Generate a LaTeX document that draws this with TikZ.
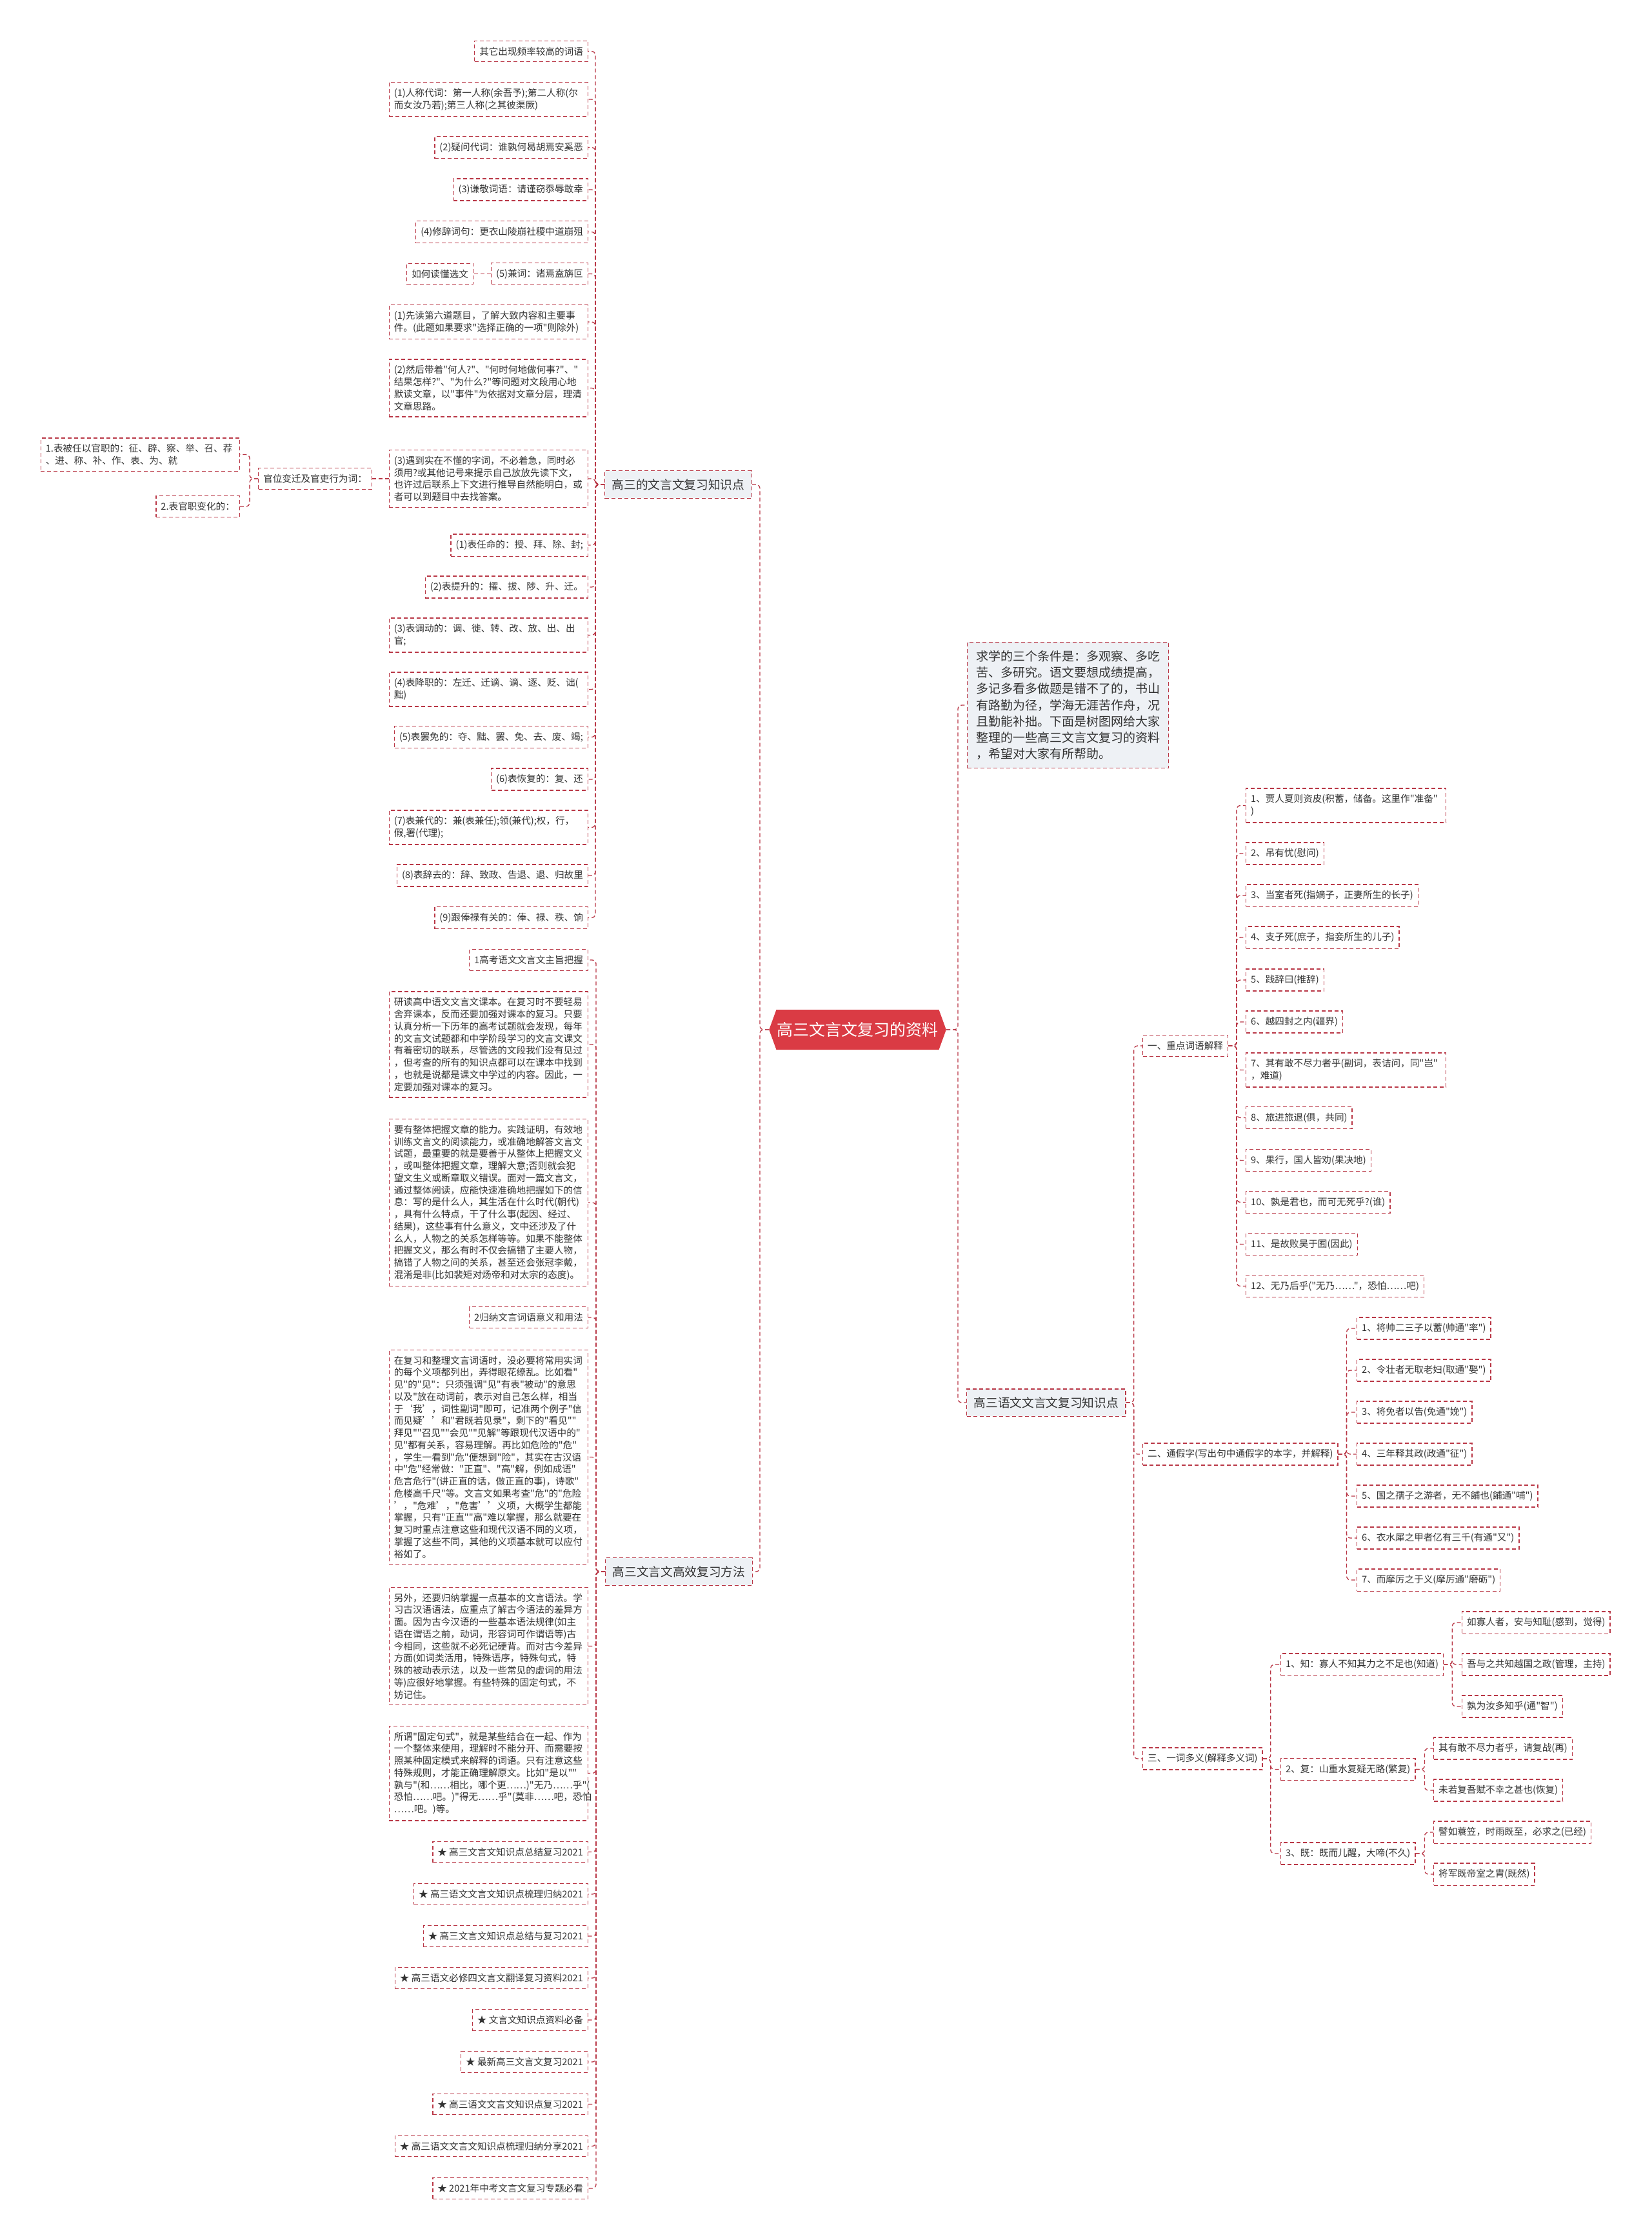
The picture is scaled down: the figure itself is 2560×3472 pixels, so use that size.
\documentclass[tikz,border=0pt]{standalone}
\usepackage{fontspec}
\setmainfont{Noto Sans CJK SC}[Ligatures=TeXOff]
\usetikzlibrary{shapes.symbols}
\definecolor{bd}{RGB}{185,55,70}
\definecolor{labfill}{HTML}{EEF1F5}
\definecolor{rootred}{HTML}{DA3B44}
\definecolor{txt}{HTML}{333333}
\newcommand\leaffont{\fontsize{14.6pt}{18.75pt}\selectfont}
\newcommand\labfont{\fontsize{18.7pt}{25.2pt}\selectfont}
\newcommand\introfont{\fontsize{19pt}{25.2pt}\selectfont}
\newcommand\rootfont{\fontsize{25pt}{30pt}\selectfont}
\begin{document}
\begin{tikzpicture}[x=1pt,y=-1pt,
  leaf/.style={draw=bd, line width=1.3pt, dash pattern=on 6pt off 4pt, fill=white,
    inner xsep=7.5pt, inner ysep=9.5pt, font=\leaffont, text=txt, align=left},
  wide/.style={leaf, text width=293pt},
  lab/.style={leaf, fill=labfill, font=\labfont, inner xsep=11pt, inner ysep=12.5pt},
  intro/.style={lab, font=\introfont, text width=285pt, inner xsep=13.5pt, inner ysep=13pt},
  rootnode/.style={shape=signal, signal to=west and east, signal pointer angle=140,
    fill=rootred, text=white, font=\rootfont, minimum height=62pt, inner xsep=1pt},
  conn/.style={draw=bd, line width=1.3pt, dash pattern=on 6pt off 4pt, rounded corners=6pt}
]
\fill[white] (0,0) rectangle (2560,3472);
\path[use as bounding box] (0,0) rectangle (2560,3472);

% root
\node[rootnode] (root) at (1329.5,1596) {高三文言文复习的资料};

% ---------- left group 1 ----------
\node[lab, anchor=east] (lab1) at (1166,751) {高三的文言文复习知识点};
\node[leaf, anchor=east] (L1) at (912,79.5) {其它出现频率较高的词语};
\node[wide, anchor=east] (L2) at (912,154) {(1)人称代词：第一人称(余吾予);第二人称(尔\\而女汝乃若);第三人称(之其彼渠厥)};
\node[leaf, anchor=east] (L3) at (912,228.5) {(2)疑问代词：谁孰何曷胡焉安奚恶};
\node[leaf, anchor=east] (L4) at (912,294) {(3)谦敬词语：请谨窃忝辱敢幸};
\node[leaf, anchor=east] (L5) at (912,359.5) {(4)修辞词句：更衣山陵崩社稷中道崩殂};
\node[leaf, anchor=east] (L6) at (912,424.5) {(5)兼词：诸焉盍旃叵};
\node[leaf, anchor=east] (RD) at (734,424.5) {如何读懂选文};
\node[wide, anchor=east] (L7) at (912,499) {(1)先读第六道题目，了解大致内容和主要事\\件。(此题如果要求"选择正确的一项"则除外)};
\node[wide, anchor=east] (L8) at (912,601.5) {(2)然后带着"何人?"、"何时何地做何事?"、"\\结果怎样?"、"为什么?"等问题对文段用心地\\默读文章，以"事件"为依据对文章分层，理清\\文章思路。};
\node[wide, anchor=east] (L9) at (912,742) {(3)遇到实在不懂的字词，不必着急，同时必\\须用?或其他记号来提示自己放放先读下文，\\也许过后联系上下文进行推导自然能明白，或\\者可以到题目中去找答案。};
\node[leaf, anchor=east] (GW) at (577,742) {官位变迁及官吏行为词：};
\node[wide, anchor=east] (G1) at (372,704.5) {1.表被任以官职的：征、辟、察、举、召、荐\\、进、称、补、作、表、为、就};
\node[leaf, anchor=east] (G2) at (372,785) {2.表官职变化的：};
\node[leaf, anchor=east] (L10) at (912,845) {(1)表任命的：授、拜、除、封;};
\node[leaf, anchor=east] (L11) at (912,910) {(2)表提升的：擢、拔、陟、升、迁。};
\node[wide, anchor=east] (L12) at (912,984.5) {(3)表调动的：调、徙、转、改、放、出、出\\官;};
\node[wide, anchor=east] (L13) at (912,1068.5) {(4)表降职的：左迁、迁谪、谪、逐、贬、诎(\\黜)};
\node[leaf, anchor=east] (L14) at (912,1142.5) {(5)表罢免的：夺、黜、罢、免、去、废、竭;};
\node[leaf, anchor=east] (L15) at (912,1208) {(6)表恢复的：复、还};
\node[wide, anchor=east] (L16) at (912,1282.5) {(7)表兼代的：兼(表兼任);领(兼代);权，行，\\假,署(代理);};
\node[leaf, anchor=east] (L17) at (912,1357) {(8)表辞去的：辞、致政、告退、退、归故里};
\node[leaf, anchor=east] (L18) at (912,1422.5) {(9)跟俸禄有关的：俸、禄、秩、饷};

% ---------- left group 2 ----------
\node[lab, anchor=east] (lab2) at (1167,2436) {高三文言文高效复习方法};
\node[leaf, anchor=east] (M1) at (912,1488) {1高考语文文言文主旨把握};
\node[wide, anchor=east] (M2) at (912,1619) {研读高中语文文言文课本。在复习时不要轻易\\舍弃课本，反而还要加强对课本的复习。只要\\认真分析一下历年的高考试题就会发现，每年\\的文言文试题都和中学阶段学习的文言文课文\\有着密切的联系，尽管选的文段我们没有见过\\，但考查的所有的知识点都可以在课本中找到\\，也就是说都是课文中学过的内容。因此，一\\定要加强对课本的复习。};
\node[wide, anchor=east] (M3) at (912,1864) {要有整体把握文章的能力。实践证明，有效地\\训练文言文的阅读能力，或准确地解答文言文\\试题，最重要的就是要善于从整体上把握文义\\，或叫整体把握文章，理解大意;否则就会犯\\望文生义或断章取义错误。面对一篇文言文，\\通过整体阅读，应能快速准确地把握如下的信\\息：写的是什么人，其生活在什么时代(朝代)\\，具有什么特点，干了什么事(起因、经过、\\结果)，这些事有什么意义，文中还涉及了什\\么人，人物之的关系怎样等等。如果不能整体\\把握文义，那么有时不仅会搞错了主要人物，\\搞错了人物之间的关系，甚至还会张冠李戴，\\混淆是非(比如裴矩对炀帝和对太宗的态度)。};
\node[leaf, anchor=east] (M4) at (912,2042) {2归纳文言词语意义和用法};
\node[wide, anchor=east] (M5) at (912,2258.5) {在复习和整理文言词语时，没必要将常用实词\\的每个义项都列出，弄得眼花缭乱。比如看"\\见"的"见"：只须强调"见"有表"被动"的意思\\以及"放在动词前，表示对自己怎么样，相当\\于‘我’，词性副词"即可，记准两个例子"信\\而见疑’’和"君既若见录"，剩下的"看见""\\拜见""召见""会见""见解"等跟现代汉语中的"\\见"都有关系，容易理解。再比如危险的"危"\\，学生一看到"危"便想到"险"，其实在古汉语\\中"危"经常做："正直"、"高"解，例如成语"\\危言危行"(讲正直的话，做正直的事)，诗歌"\\危楼高千尺"等。文言文如果考查"危"的"危险\\’，"危难’，"危害’’义项，大概学生都能\\掌握，只有"正直""高"难以掌握，那么就要在\\复习时重点注意这些和现代汉语不同的义项，\\掌握了这些不同，其他的义项基本就可以应付\\裕如了。};
\node[wide, anchor=east] (M6) at (912,2551.5) {另外，还要归纳掌握一点基本的文言语法。学\\习古汉语语法，应重点了解古今语法的差异方\\面。因为古今汉语的一些基本语法规律(如主\\语在谓语之前，动词，形容词可作谓语等)古\\今相同，这些就不必死记硬背。而对古今差异\\方面(如词类活用，特殊语序，特殊句式，特\\殊的被动表示法，以及一些常见的虚词的用法\\等)应很好地掌握。有些特殊的固定句式，不\\妨记住。};
\node[wide, anchor=east] (M7) at (912,2748.5) {所谓"固定句式"，就是某些结合在一起、作为\\一个整体来使用，理解时不能分开、而需要按\\照某种固定模式来解释的词语。只有注意这些\\特殊规则，才能正确理解原文。比如"是以""\\孰与"(和……相比，哪个更……)"无乃……乎"(\\恐怕……吧。)"得无……乎"(莫非……吧，恐怕\\……吧。)等。};
\node[leaf, anchor=east] (S1) at (912,2870.5) {★ 高三文言文知识点总结复习2021};
\node[leaf, anchor=east] (S2) at (912,2936) {★ 高三语文文言文知识点梳理归纳2021};
\node[leaf, anchor=east] (S3) at (912,3001) {★ 高三文言文知识点总结与复习2021};
\node[leaf, anchor=east] (S4) at (912,3066) {★ 高三语文必修四文言文翻译复习资料2021};
\node[leaf, anchor=east] (S5) at (912,3131) {★ 文言文知识点资料必备};
\node[leaf, anchor=east] (S6) at (912,3196) {★ 最新高三文言文复习2021};
\node[leaf, anchor=east] (S7) at (912,3261.5) {★ 高三语文文言文知识点复习2021};
\node[leaf, anchor=east] (S8) at (912,3326.5) {★ 高三语文文言文知识点梳理归纳分享2021};
\node[leaf, anchor=east] (S9) at (912,3392) {★ 2021年中考文言文复习专题必看};

% ---------- right side ----------
\node[intro, anchor=west] (intro) at (1499,1093) {求学的三个条件是：多观察、多吃\\苦、多研究。语文要想成绩提高，\\多记多看多做题是错不了的，书山\\有路勤为径，学海无涯苦作舟，况\\且勤能补拙。下面是树图网给大家\\整理的一些高三文言文复习的资料\\，希望对大家有所帮助。};
\node[lab, anchor=west] (lab3) at (1498,2174) {高三语文文言文复习知识点};

\node[leaf, anchor=west] (A) at (1771,1621) {一、重点词语解释};
\node[leaf, anchor=west, text width=295pt] (R1) at (1931,1248.5) {1、贾人夏则资皮(积蓄，储备。这里作"准备"\\)};
\node[leaf, anchor=west] (R2) at (1931,1323) {2、吊有忧(慰问)};
\node[leaf, anchor=west] (R3) at (1931,1388) {3、当室者死(指嫡子，正妻所生的长子)};
\node[leaf, anchor=west] (R4) at (1931,1453) {4、支子死(庶子，指妾所生的儿子)};
\node[leaf, anchor=west] (R5) at (1931,1519) {5、践辞曰(推辞)};
\node[leaf, anchor=west] (R6) at (1931,1584) {6、越四封之内(疆界)};
\node[leaf, anchor=west, text width=295pt] (R7) at (1931,1658.5) {7、其有敢不尽力者乎(副词，表诘问，同"岂"\\，难道)};
\node[leaf, anchor=west] (R8) at (1931,1732.5) {8、旅进旅退(俱，共同)};
\node[leaf, anchor=west] (R9) at (1931,1798.5) {9、果行，国人皆劝(果决地)};
\node[leaf, anchor=west] (R10) at (1931,1863.5) {10、孰是君也，而可无死乎?(谁)};
\node[leaf, anchor=west] (R11) at (1931,1928.5) {11、是故败吴于囿(因此)};
\node[leaf, anchor=west] (R12) at (1931,1993.5) {12、无乃后乎("无乃……"，恐怕……吧)};

\node[leaf, anchor=west] (B) at (1771,2254) {二、通假字(写出句中通假字的本字，并解释)};
\node[leaf, anchor=west] (T1) at (2103,2059) {1、将帅二三子以蓄(帅通"率")};
\node[leaf, anchor=west] (T2) at (2103,2124) {2、令壮者无取老妇(取通"娶")};
\node[leaf, anchor=west] (T3) at (2103,2189) {3、将免者以告(免通"娩")};
\node[leaf, anchor=west] (T4) at (2103,2254) {4、三年释其政(政通"征")};
\node[leaf, anchor=west] (T5) at (2103,2319) {5、国之孺子之游者，无不餔也(餔通"哺")};
\node[leaf, anchor=west] (T6) at (2103,2384) {6、衣水犀之甲者亿有三千(有通"又")};
\node[leaf, anchor=west] (T7) at (2103,2449) {7、而摩厉之于义(摩厉通"磨砺")};

\node[leaf, anchor=west] (C) at (1771,2726) {三、一词多义(解释多义词)};
\node[leaf, anchor=west] (Z) at (1985,2580) {1、知：寡人不知其力之不足也(知道)};
\node[leaf, anchor=west] (F) at (1985,2742.5) {2、复：山重水复疑无路(繁复)};
\node[leaf, anchor=west] (J) at (1985,2873) {3、既：既而儿醒，大啼(不久)};
\node[leaf, anchor=west] (Z1) at (2266,2515) {如寡人者，安与知耻(感到，觉得)};
\node[leaf, anchor=west] (Z2) at (2266,2580) {吾与之共知越国之政(管理，主持)};
\node[leaf, anchor=west] (Z3) at (2266,2645) {孰为汝多知乎(通"智")};
\node[leaf, anchor=west] (F1) at (2222,2710) {其有敢不尽力者乎，请复战(再)};
\node[leaf, anchor=west] (F2) at (2222,2775) {未若复吾赋不幸之甚也(恢复)};
\node[leaf, anchor=west] (J1) at (2222,2840) {譬如蓑笠，时雨既至，必求之(已经)};
\node[leaf, anchor=west] (J2) at (2222,2905) {将军既帝室之胄(既然)};

% ---------- connectors ----------
\foreach \c in {lab1,lab2} \draw[conn] (root.west) -- ++(-14,0) |- (\c.east);
\foreach \c in {L1,L2,L3,L4,L5,L6,L7,L8,L9,L10,L11,L12,L13,L14,L15,L16,L17,L18}
  \draw[conn] (lab1.west) -- ++(-14,0) |- (\c.east);
\draw[conn] (L6.west) -- (RD.east);
\draw[conn] (L9.west) -- (GW.east);
\foreach \c in {G1,G2} \draw[conn] (GW.west) -- ++(-13,0) |- (\c.east);
\foreach \c in {M1,M2,M3,M4,M5,M6,M7,S1,S2,S3,S4,S5,S6,S7,S8,S9}
  \draw[conn] (lab2.west) -- ++(-14,0) |- (\c.east);

\foreach \c in {intro,lab3} \draw[conn] (root.east) -- ++(18,0) |- (\c.west);
\foreach \c in {A,B,C} \draw[conn] (lab3.east) -- ++(12,0) |- (\c.west);
\foreach \c in {R1,R2,R3,R4,R5,R6,R7,R8,R9,R10,R11,R12}
  \draw[conn] (A.east) -- ++(13,0) |- (\c.west);
\foreach \c in {T1,T2,T3,T4,T5,T6,T7} \draw[conn] (B.east) -- ++(13,0) |- (\c.west);
\foreach \c in {Z,F,J} \draw[conn] (C.east) -- ++(12,0) |- (\c.west);
\foreach \c in {Z1,Z2,Z3} \draw[conn] (Z.east) -- ++(13,0) |- (\c.west);
\foreach \c in {F1,F2} \draw[conn] (F.east) -- ++(14,0) |- (\c.west);
\foreach \c in {J1,J2} \draw[conn] (J.east) -- ++(14,0) |- (\c.west);
\end{tikzpicture}
\end{document}
